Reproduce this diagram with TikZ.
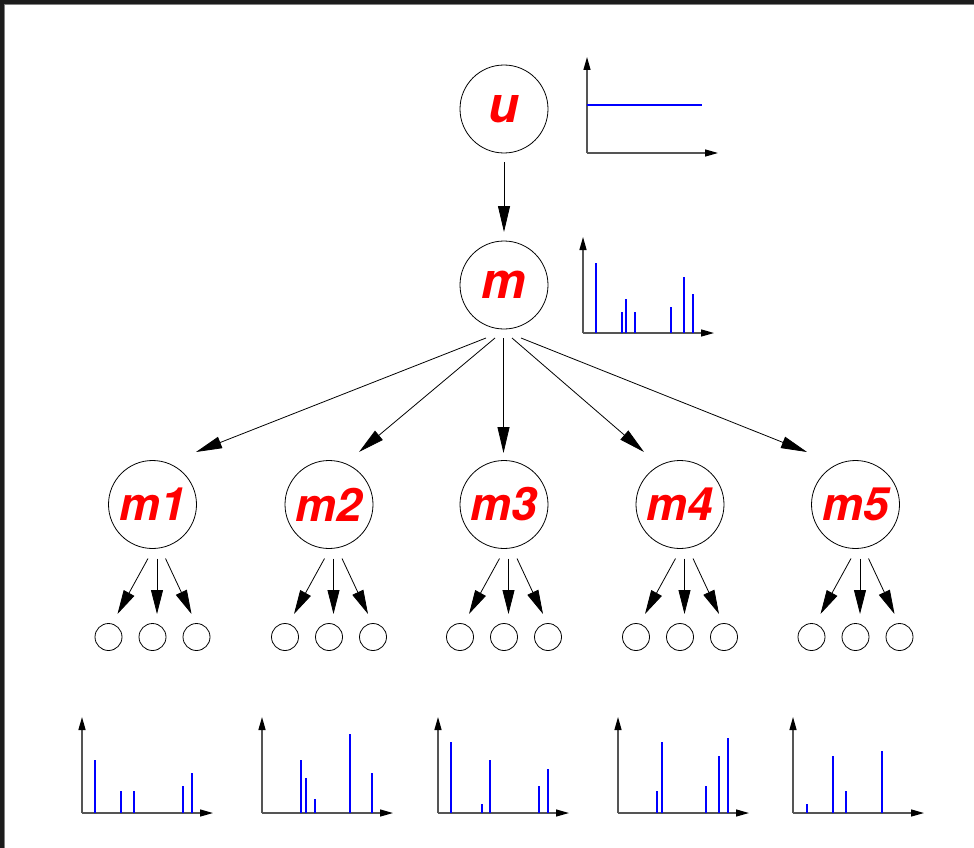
\documentclass[tikz,border=0pt]{standalone}
\usepackage{fontspec}
\setmainfont{TeX Gyre Heros}
\usetikzlibrary{arrows.meta,calc}
\definecolor{framec}{HTML}{1C1C1C}
\definecolor{axisc}{HTML}{555555}
\tikzset{
  big/.style={circle,draw=black,line width=0.8pt,minimum size=88pt,inner sep=0pt,
    text=red,font=\fontsize{46}{46}\selectfont\bfseries\itshape},
  top/.style={big,font=\fontsize{50}{50}\selectfont\bfseries\itshape},
  leaf/.style={circle,draw=black,line width=0.8pt,minimum size=27pt,inner sep=0pt},
  arr/.style={line width=0.8pt,-{Triangle[length=26pt,width=12pt]}},
  carr/.style={line width=0.8pt,-{Triangle[length=24pt,width=12pt]}},
  axis/.style={draw=axisc,line width=1.3pt,-{Triangle[length=13pt,width=7pt,black]}},
  bar/.style={draw=blue,line width=1.2pt},
}
\begin{document}
\begin{tikzpicture}[x=1pt,y=-1pt]
\useasboundingbox (0,0) rectangle (974,848);
\fill[white] (0,0) rectangle (974,848);
\fill[framec] (0,0) rectangle (974,4.5);
\fill[framec] (0,0) rectangle (3.5,848);
\draw[gray,line width=0.6pt] (3.8,4.8) -- (974,4.8);
\draw[gray,line width=0.6pt] (3.8,4.8) -- (3.8,848);

% main nodes
\node[top] (u) at (504,109) {u};
\node[top] (m) at (504,285) {m};
\foreach \i/\x in {1/152.5,2/329,3/504,4/680,5/855.5}{
  \node[big] (m\i) at (\x,504.5) {m\i};
  \node[leaf] (m\i a) at (\x-44,637) {};
  \node[leaf] (m\i b) at (\x,637) {};
  \node[leaf] (m\i c) at (\x+44,637) {};
  \draw[carr] ($(m\i)+(-4.5,54)$) -- ($(m\i a)+(9,-23)$);
  \draw[carr] ($(m\i)+(4.5,54)$) -- ($(m\i b)+(4.5,-23)$);
  \draw[carr] ($(m\i)+(13,54)$) -- ($(m\i c)+(-5,-23)$);
}

% connectors
\draw[arr] ($(u)+(0,53)$) -- ($(m)+(0,-53)$);
\draw[arr] ($(m)+(-18,53)$) -- ($(m1)+(43.5,-52.5)$);
\draw[arr] ($(m)+(-9,53)$) -- ($(m2)+(30,-52.5)$);
\draw[arr] ($(m)+(-0.5,53)$) -- ($(m3)+(-0.5,-51.5)$);
\draw[arr] ($(m)+(8,53)$) -- ($(m4)+(-36,-52.5)$);
\draw[arr] ($(m)+(17,53)$) -- ($(m5)+(-48.5,-52.5)$);

% plot for u
\coordinate (pu) at (587,153);
\draw[axis] (pu) -- ++(0,-96);
\draw[axis] (pu) -- ++(131,0);
\draw[bar] ($(pu)+(0,-48)$) -- ++(115,0);

% plot for m
\coordinate (pm) at (583,333);
\draw[axis] (pm) -- ++(0,-96);
\draw[axis] (pm) -- ++(131,0);
\foreach \x/\y in {596/263,622/312,626/299,635/312,671/307,684/277,693/294}
  \draw[bar] (\x,333) -- (\x,\y);

% bottom plots
\foreach \x in {82,262,438,618,793}{
  \draw[axis] (\x,813) -- (\x,717);
  \draw[axis] (\x,813) -- (\x+131,813);
}
\foreach \x/\y in {95/760,121/791,134/791,183/786,192/773,
                   301/760,306/778,315/799,350/734,372/773,
                   451/742,482/804,490/760,539/786,548/769,
                   657/791,662/742,706/786,719/756,728/738,
                   807/804,833/756,846/791,882/751}
  \draw[bar] (\x,813) -- (\x,\y);
\end{tikzpicture}
\end{document}
